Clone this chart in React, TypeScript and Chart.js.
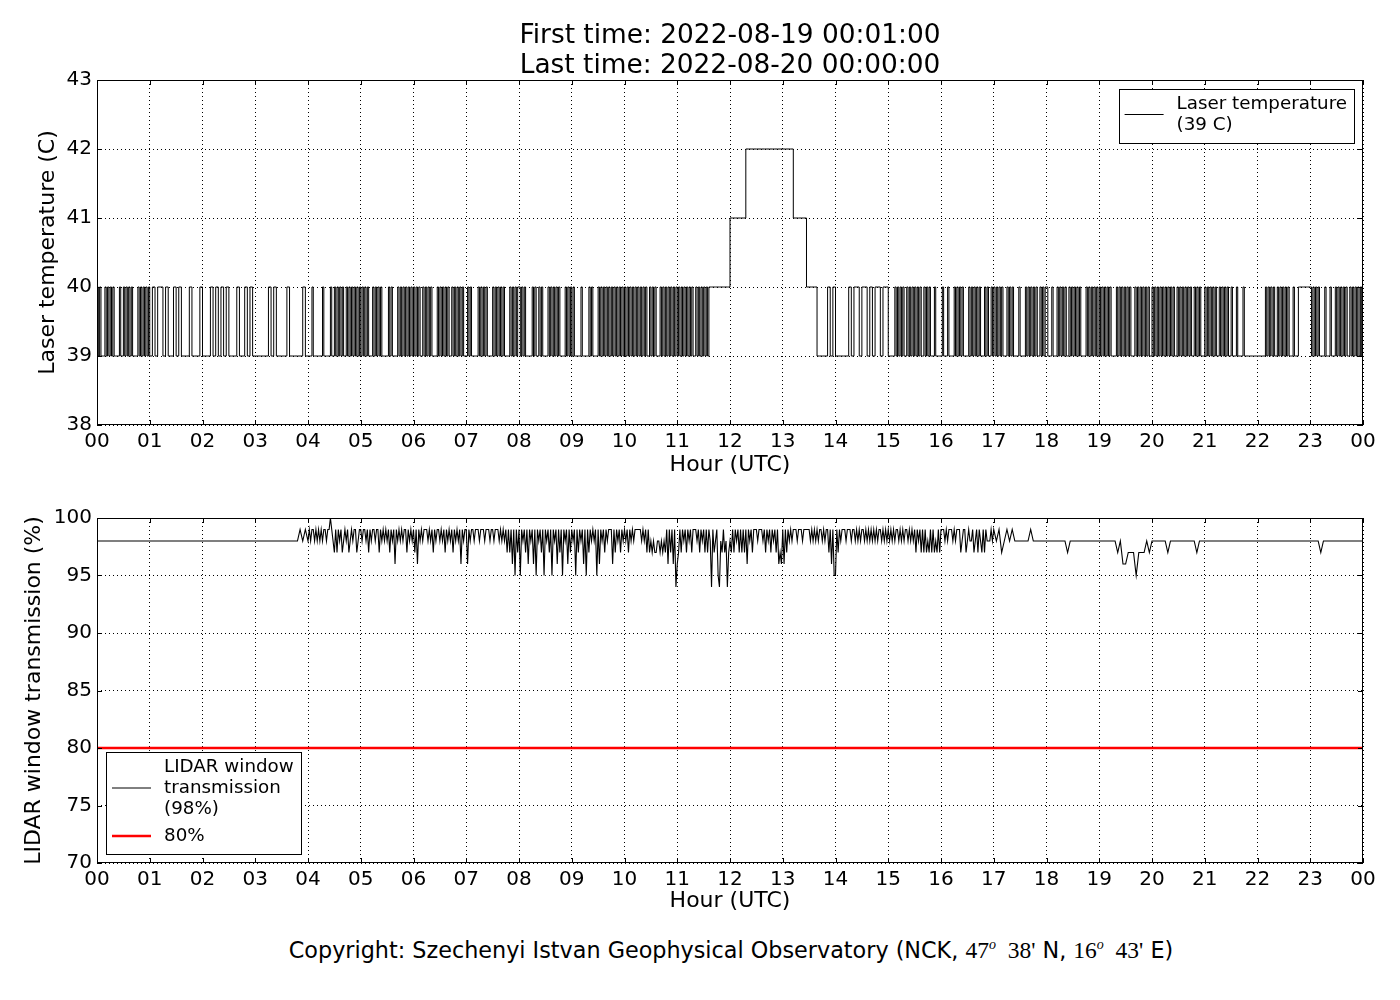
import { useEffect, useRef } from "react";
import { Chart, registerables } from "chart.js";

Chart.register(...registerables);

const FONT = "'DejaVu Sans', sans-serif";
const SERIF = "'Liberation Serif', 'DejaVu Serif', serif";

const TITLE_LINES = ["First time: 2022-08-19 00:01:00", "Last time: 2022-08-20 00:00:00"];
const HOUR_LABELS = [
  "00", "01", "02", "03", "04", "05", "06", "07", "08", "09", "10", "11",
  "12", "13", "14", "15", "16", "17", "18", "19", "20", "21", "22", "23", "00",
];
const X_TITLE = "Hour (UTC)";

// Laser temperature, one row per hour, chars spread evenly over the hour
// (20 chars = 3 min, 40 chars = 1.5 min), value = 39 + digit
const TEMP_TICKS = [38, 39, 40, 41, 42, 43];
const TEMP_BASE = 39;
const TEMP_HOURS = [
  "1010001010101000010010101010000101010101",
  "01011010010100010001",
  "00010101010001001010",
  "00000101000010000010",
  "0001000000010000010010101010010101010101",
  "0101010001010101000001010000101010101010",
  "1010100101010100001010101010010101010100",
  "0101000001010101000010101010100001010101",
  "1010100000101001010000101010101000010101",
  "0100000100000101000010101010101010101010",
  "1010101010101010100101010001010101010101",
  "0101010101010010101010101111111111111111",
  "22222233333333333333",
  "33332222211110000101",
  "00000101101101011011",
  "0000010101010010101010101001010100010000",
  "0100010000101010100001010101010001010010",
  "1010101000101010000100001010101010010101",
  "1000100010101010010101010100001010101010",
  "1010101010000101010101010001010101010100",
  "1010101010101010100101010101010010101000",
  "1010101010010101010010001000010000000000",
  "0000001010101001010101010001000111111111",
  "1010101000010001000101010101001010101010",
];
const TEMP_TITLE = "Laser temperature (C)";
const TEMP_LEGEND = ["Laser temperature", "(39 C)"];

// LIDAR window transmission, one row per hour (20 or 40 chars),
// value = 90 + digit, X = 100
const TRANS_TICKS = [70, 75, 80, 85, 90, 95, 100];
const TRANS_BASE = 90;
const TRANS_HOURS = [
  "88888888888888888888",
  "88888888888888888888",
  "88888888888888888888",
  "88888888888888888989",
  "89899898989899899X9879798978989789899789",
  "9899897989989979898989798969898989979898",
  "9796989899989897989989897989897989896989",
  "9698998999899989998998999898989797969597",
  "9598979698969598979598979598969795989697",
  "9895979896959798989596989798999697989798",
  "9897989899999898979787877887878796979694",
  "6797989798979998979897979849789548797847",
  "8797989797979698979998999897989798979676",
  "9697989899989998999998989898998989979695",
  "5979899989998998989899898989898989989898",
  "9898989989898998989897989797978797978797",
  "9998989998989997899789889789798797988898",
  "98978989888888988888",
  "88888888788888888888",
  "88888887866777577787",
  "88888878888888888788",
  "88888888888888888888",
  "88888888888888888888",
  "88887888888888888888",
];
const TRANS_TITLE = "LIDAR window transmission (%)";
const TRANS_LEGEND = ["LIDAR window", "transmission", "(98%)"];
const LIMIT_VALUE = 80;
const LIMIT_LEGEND = ["80%"];

const COPYRIGHT = "Copyright: Szechenyi Istvan Geophysical Observatory (NCK, ";
const LAT = ["47", "38"];
const LON = ["16", "43"];

function decode(hours: string[], base: number) {
  const pts: { x: number; y: number }[] = [];
  hours.forEach((row, h) => {
    for (let i = 0; i < row.length; i++) {
      const c = row[i];
      pts.push({ x: h + i / row.length, y: base + (c === "X" ? 10 : Number(c)) });
    }
  });
  pts.push({ x: 24, y: pts[pts.length - 1].y });
  return pts;
}

// black frame with inward ticks, like matplotlib classic
const framePlugin = {
  id: "frame",
  afterDatasetsDraw(chart: any) {
    const { ctx, chartArea: a, scales } = chart;
    const L = 5;
    ctx.save();
    ctx.strokeStyle = "#000";
    ctx.lineWidth = 1;
    ctx.strokeRect(a.left + 0.5, a.top + 0.5, a.width - 1, a.height - 1);
    ctx.beginPath();
    scales.x.ticks.forEach((t: any) => {
      const px = Math.round(scales.x.getPixelForValue(t.value)) + 0.5;
      ctx.moveTo(px, a.bottom);
      ctx.lineTo(px, a.bottom - L);
      ctx.moveTo(px, a.top);
      ctx.lineTo(px, a.top + L);
    });
    scales.y.ticks.forEach((t: any) => {
      const py = Math.round(scales.y.getPixelForValue(t.value)) + 0.5;
      ctx.moveTo(a.left, py);
      ctx.lineTo(a.left + L, py);
      ctx.moveTo(a.right, py);
      ctx.lineTo(a.right - L, py);
    });
    ctx.stroke();
    ctx.restore();
  },
};

type LegendEntry = { lines: string[]; color: string; width: number };

function legendPlugin(id: string, entries: LegendEntry[], corner: "top-right" | "bottom-left") {
  return {
    id,
    afterDraw(chart: any) {
      const { ctx, chartArea: a } = chart;
      ctx.save();
      ctx.font = `18.3px ${FONT}`;
      const textW = Math.max(...entries.flatMap((e) => e.lines.map((l) => ctx.measureText(l).width)));
      const w = 58 + textW + 7;
      let h = 15 + 18 + (entries.length - 1) * 27;
      entries.forEach((e) => (h += (e.lines.length - 1) * 21));
      const left = corner === "top-right" ? a.right - 9 - w : a.left + 9;
      const top = corner === "top-right" ? a.top + 9 : a.bottom - 9 - h;
      ctx.fillStyle = "#fff";
      ctx.fillRect(left, top, w, h);
      ctx.strokeStyle = "#000";
      ctx.lineWidth = 1;
      ctx.strokeRect(Math.round(left) + 0.5, Math.round(top) + 0.5, Math.round(w), Math.round(h));
      let y = top + 15;
      entries.forEach((e) => {
        const mid = y + ((e.lines.length - 1) * 21) / 2;
        ctx.beginPath();
        ctx.strokeStyle = e.color;
        ctx.lineWidth = e.width;
        ctx.moveTo(left + 6, mid);
        ctx.lineTo(left + 45, mid);
        ctx.stroke();
        ctx.fillStyle = "#000";
        ctx.textBaseline = "middle";
        ctx.textAlign = "left";
        e.lines.forEach((l, k) => ctx.fillText(l, left + 58, y + k * 21));
        y += (e.lines.length - 1) * 21 + 27;
      });
      ctx.restore();
    },
  };
}

function makeOptions(
  yTicks: number[],
  yTitle: string,
  yTitlePad: number,
  padTop: number,
  xHeight: number,
  xTitlePad: number
): any {
  const tickFont = { family: FONT, size: 20 };
  const titleFont = { family: FONT, size: 22 };
  const grid = { color: "#000", lineWidth: 1, drawTicks: false };
  const border = { display: false, dash: [1, 3] };
  return {
    animation: false,
    responsive: false,
    events: [],
    layout: { padding: { left: 0, right: 37, top: padTop, bottom: 0 } },
    plugins: {
      legend: { display: false },
      title: { display: false },
      tooltip: { enabled: false },
    },
    scales: {
      x: {
        type: "linear",
        min: 0,
        max: 24,
        afterFit: (s: any) => {
          s.height = xHeight;
        },
        afterBuildTicks: (s: any) => {
          s.ticks = HOUR_LABELS.map((_, i) => ({ value: i }));
        },
        ticks: {
          autoSkip: false,
          maxRotation: 0,
          padding: 5,
          color: "#000",
          font: tickFont,
          callback: (v: number) => HOUR_LABELS[Math.round(v)],
        },
        grid,
        border,
        title: {
          display: true,
          text: X_TITLE,
          color: "#000",
          font: titleFont,
          padding: { top: 0, bottom: xTitlePad },
        },
      },
      y: {
        type: "linear",
        min: yTicks[0],
        max: yTicks[yTicks.length - 1],
        afterFit: (s: any) => {
          s.width = 97;
        },
        afterBuildTicks: (s: any) => {
          s.ticks = yTicks.map((v) => ({ value: v }));
        },
        ticks: {
          padding: 5,
          color: "#000",
          font: tickFont,
          callback: (v: number) => String(v),
        },
        grid,
        border,
        title: {
          display: true,
          text: yTitle,
          color: "#000",
          font: titleFont,
          padding: { top: yTitlePad, bottom: 0 },
        },
      },
    },
  };
}

export default function App() {
  const topRef = useRef<HTMLCanvasElement | null>(null);
  const bottomRef = useRef<HTMLCanvasElement | null>(null);

  useEffect(() => {
    if (!topRef.current || !bottomRef.current) return;

    const tempChart = new Chart(topRef.current, {
      type: "line",
      data: {
        datasets: [
          {
            label: TEMP_LEGEND.join(" "),
            data: decode(TEMP_HOURS, TEMP_BASE),
            borderColor: "#000",
            borderWidth: 1,
            pointRadius: 0,
            stepped: true,
            fill: false,
          },
        ],
      },
      options: makeOptions(TEMP_TICKS, TEMP_TITLE, 35, 80, 55, 2),
      plugins: [
        framePlugin,
        legendPlugin("tempLegend", [{ lines: TEMP_LEGEND, color: "#000", width: 1 }], "top-right"),
      ],
    });

    const transChart = new Chart(bottomRef.current, {
      type: "line",
      data: {
        datasets: [
          {
            label: TRANS_LEGEND.join(" "),
            data: decode(TRANS_HOURS, TRANS_BASE),
            borderColor: "#000",
            borderWidth: 1.1,
            pointRadius: 0,
            tension: 0,
            fill: false,
          },
          {
            label: LIMIT_LEGEND[0],
            data: [
              { x: 0, y: LIMIT_VALUE },
              { x: 24, y: LIMIT_VALUE },
            ],
            borderColor: "#ff0000",
            borderWidth: 2.5,
            pointRadius: 0,
            fill: false,
          },
        ],
      },
      options: makeOptions(TRANS_TICKS, TRANS_TITLE, 21, 28, 57, 6),
      plugins: [
        framePlugin,
        legendPlugin(
          "transLegend",
          [
            { lines: TRANS_LEGEND, color: "#000", width: 1 },
            { lines: LIMIT_LEGEND, color: "#ff0000", width: 2.5 },
          ],
          "bottom-left"
        ),
      ],
    });

    return () => {
      tempChart.destroy();
      transChart.destroy();
    };
  }, []);

  const serif = { fontFamily: SERIF, fontSize: 23.5 };
  const sup = { fontSize: 14, lineHeight: 0, verticalAlign: "super" as const };

  return (
    <div
      style={{
        position: "absolute",
        left: 0,
        top: 0,
        width: 1400,
        height: 1000,
        background: "#fff",
        color: "#000",
        fontFamily: FONT,
      }}
    >
      <canvas
        ref={topRef}
        width={1400}
        height={480}
        style={{ position: "absolute", left: 0, top: 0, width: 1400, height: 480 }}
      />
      <canvas
        ref={bottomRef}
        width={1400}
        height={430}
        style={{ position: "absolute", left: 0, top: 490, width: 1400, height: 430 }}
      />
      <div
        style={{
          position: "absolute",
          left: 97,
          width: 1266,
          top: 19,
          textAlign: "center",
          fontSize: 26.4,
          lineHeight: "30px",
        }}
      >
        {TITLE_LINES.map((t) => (
          <div key={t}>{t}</div>
        ))}
      </div>
      <div
        style={{
          position: "absolute",
          left: 97,
          width: 1268,
          top: 937,
          textAlign: "center",
          fontSize: 22.3,
          lineHeight: "26px",
          whiteSpace: "pre",
        }}
      >
        {COPYRIGHT}
        <span style={serif}>
          {LAT[0]}
          <sup style={sup}>
            <i>o</i>
          </sup>
          {"  "}
          {LAT[1]}'
        </span>
        {" N, "}
        <span style={serif}>
          {LON[0]}
          <sup style={sup}>
            <i>o</i>
          </sup>
          {"  "}
          {LON[1]}'
        </span>
        {" E)"}
      </div>
    </div>
  );
}
